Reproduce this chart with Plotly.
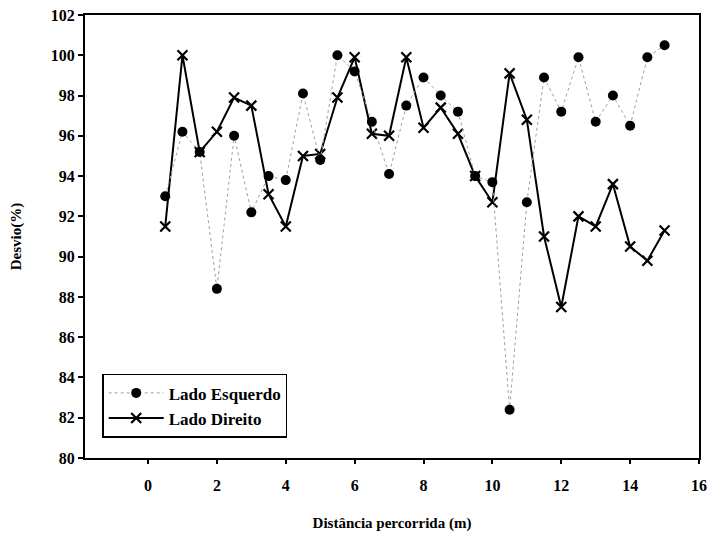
import plotly.graph_objects as go

# Distance travelled (m)
distancia = [0.5, 1.0, 1.5, 2.0, 2.5, 3.0, 3.5, 4.0, 4.5, 5.0,
             5.5, 6.0, 6.5, 7.0, 7.5, 8.0, 8.5, 9.0, 9.5, 10.0,
             10.5, 11.0, 11.5, 12.0, 12.5, 13.0, 13.5, 14.0, 14.5, 15.0]

# Deviation (%) measured on each side
lado_esquerdo = [93.0, 96.2, 95.2, 88.4, 96.0, 92.2, 94.0, 93.8, 98.1, 94.8,
                 100.0, 99.2, 96.7, 94.1, 97.5, 98.9, 98.0, 97.2, 94.0, 93.7,
                 82.4, 92.7, 98.9, 97.2, 99.9, 96.7, 98.0, 96.5, 99.9, 100.5]
lado_direito = [91.5, 100.0, 95.2, 96.2, 97.9, 97.5, 93.1, 91.5, 95.0, 95.1,
                97.9, 99.9, 96.1, 96.0, 99.9, 96.4, 97.4, 96.1, 94.0, 92.7,
                99.1, 96.8, 91.0, 87.5, 92.0, 91.5, 93.6, 90.5, 89.8, 91.3]

x_ticks = [0, 2, 4, 6, 8, 10, 12, 14, 16]
y_ticks = [80, 82, 84, 86, 88, 90, 92, 94, 96, 98, 100, 102]

serif = "Liberation Serif"

fig = go.Figure()

fig.add_trace(go.Scatter(
    x=distancia, y=lado_direito, name="Lado Direito",
    mode="lines+markers",
    line=dict(color="black", width=2),
    marker=dict(symbol="x-thin", size=10, line=dict(color="black", width=2.2)),
))

fig.add_trace(go.Scatter(
    x=distancia, y=lado_esquerdo, name="Lado Esquerdo",
    mode="lines+markers",
    line=dict(color="#a0a0a0", width=1, dash="dot"),
    marker=dict(symbol="circle", size=10, color="black"),
))

fig.update_layout(
    width=709, height=533,
    margin=dict(l=85, r=10, t=15, b=75),
    paper_bgcolor="white", plot_bgcolor="white",
    font=dict(family=serif, size=13, color="black"),
    showlegend=True,
    legend=dict(
        x=0.028, y=0.19, xanchor="left", yanchor="top",
        traceorder="reversed",
        bgcolor="white", bordercolor="black", borderwidth=1.5,
        font=dict(family=serif, size=17, color="black", weight="bold"),
        itemwidth=55,
        tracegroupgap=0,
    ),
)

fig.update_xaxes(
    range=[-1.83, 16], tickvals=x_ticks, ticktext=[str(v) for v in x_ticks],
    showgrid=False, zeroline=False, automargin=False,
    showline=True, linecolor="black", linewidth=2, mirror=True,
    ticks="outside", ticklen=4, tickwidth=2, tickcolor="black",
    ticklabelstandoff=8,
    tickfont=dict(family=serif, size=16, color="black", weight="bold"),
    title=dict(text="Distância percorrida (m)", standoff=24,
               font=dict(family=serif, size=15, color="black", weight="bold")),
)

fig.update_yaxes(
    range=[80, 102], tickvals=y_ticks, ticktext=[str(v) for v in y_ticks],
    showgrid=False, zeroline=False, automargin=False,
    showline=True, linecolor="black", linewidth=2, mirror=True,
    ticks="outside", ticklen=5, tickwidth=2, tickcolor="black",
    tickfont=dict(family=serif, size=16, color="black", weight="bold"),
    title=dict(text="Desvio(%)", standoff=26,
               font=dict(family=serif, size=15, color="black", weight="bold")),
)

fig.write_html("out.html")
